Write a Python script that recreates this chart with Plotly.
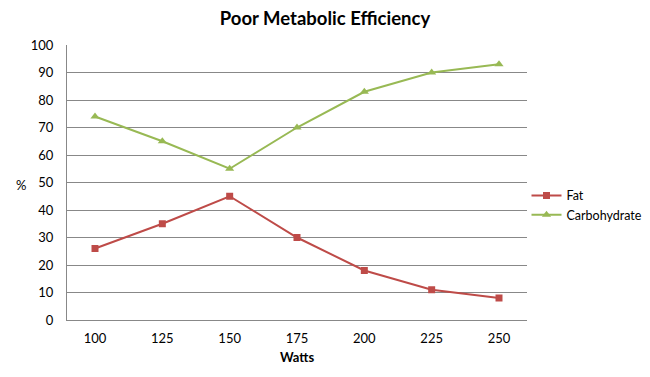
import plotly.graph_objects as go

watts = ["100", "125", "150", "175", "200", "225", "250"]
fat = [26, 35, 45, 30, 18, 11, 8]
carbohydrate = [74, 65, 55, 70, 83, 90, 93]
y_ticks = [0, 10, 20, 30, 40, 50, 60, 70, 80, 90, 100]

FONT = "Lato"
fig = go.Figure()
fig.add_trace(go.Scatter(x=watts, y=fat, name="Fat", mode="lines+markers",
                         line=dict(color="#BE4B48", width=2),
                         marker=dict(symbol="square", size=7, color="#BE4B48")))
fig.add_trace(go.Scatter(x=watts, y=carbohydrate, name="Carbohydrate", mode="lines+markers",
                         line=dict(color="#98B954", width=2),
                         marker=dict(symbol="triangle-up", size=8, color="#98B954")))

fig.update_layout(
    width=650, height=377,
    margin=dict(l=67, r=123, t=45, b=57, autoexpand=False),
    paper_bgcolor="white", plot_bgcolor="white",
    font=dict(family=FONT, size=13, color="#000000"),
    title=dict(text="<b>Poor Metabolic Efficiency</b>", x=0.5, xanchor="center",
               xref="container", y=0.952, yanchor="middle", font=dict(size=18.5, family=FONT)),
    xaxis=dict(type="category", showgrid=False, showline=True, linecolor="#888888",
               linewidth=1, ticks="", automargin=False, ticklabelstandoff=6,
               title=dict(text="<b>Watts</b>", font=dict(size=13), standoff=8)),
    yaxis=dict(range=[0, 100], tickvals=y_ticks, showgrid=True, gridcolor="#888888",
               gridwidth=1, showline=True, linecolor="#888888", ticks="",
               zeroline=False, automargin=False, ticklabelstandoff=10),
    legend=dict(xref="container", yref="container", x=0.81, y=0.455,
                xanchor="left", yanchor="middle",
                font=dict(size=12.5), tracegroupgap=4),
    showlegend=True,
)
fig.add_annotation(text="%", xref="paper", yref="paper", x=-0.1, y=0.49,
                   showarrow=False, font=dict(size=13), xanchor="center")
fig.write_html("out.html", config={"displayModeBar": False},
               post_script="document.body.style.margin='0px';")
